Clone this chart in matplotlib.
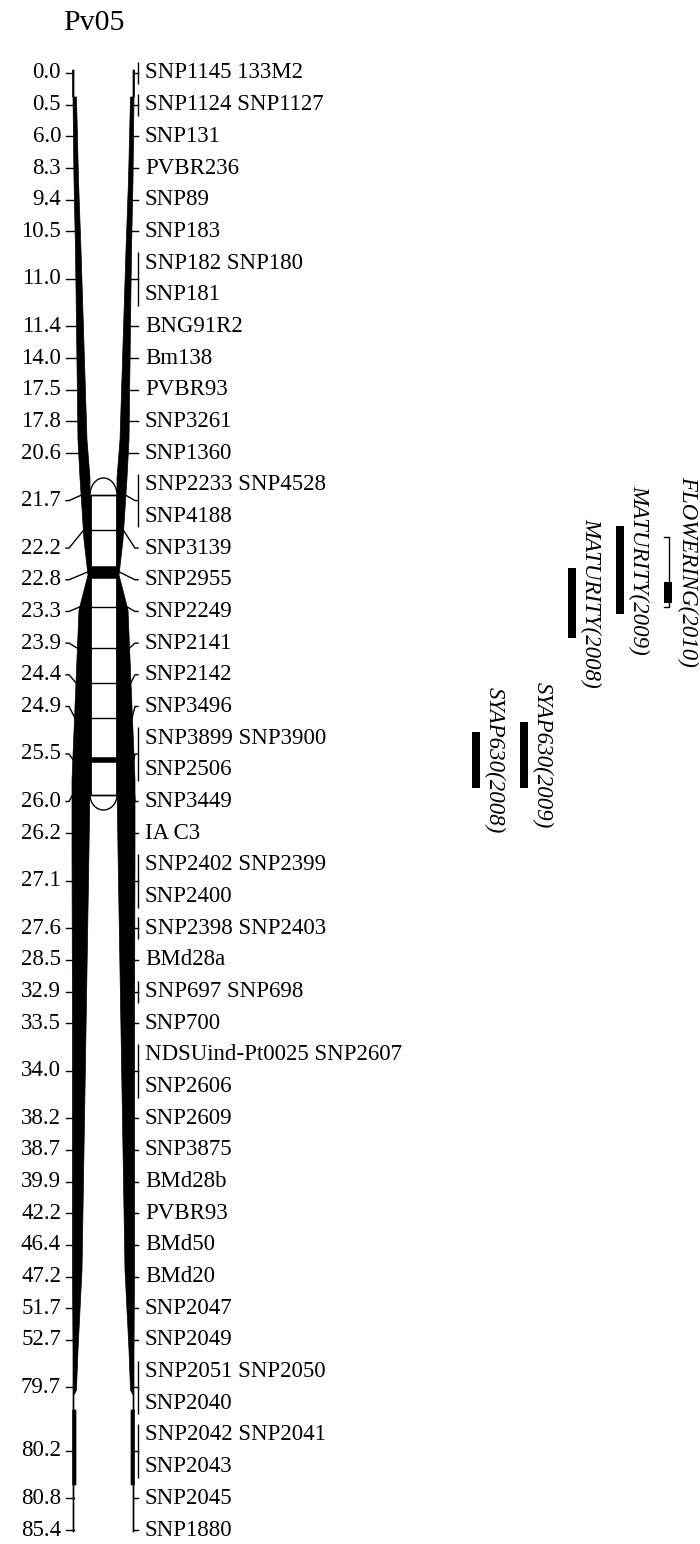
import numpy as np
import matplotlib.pyplot as plt
from matplotlib.patches import Polygon, Ellipse, Rectangle

plt.rcParams['font.family'] = ['Liberation Serif', 'DejaVu Serif']

# linkage group Pv05: map positions (cM) and the markers placed at each one
chrom_name = "Pv05"
positions = [0.0, 0.5, 6.0, 8.3, 9.4, 10.5, 11.0, 11.4, 14.0, 17.5,
             17.8, 20.6, 21.7, 22.2, 22.8, 23.3, 23.9, 24.4, 24.9, 25.5,
             26.0, 26.2, 27.1, 27.6, 28.5, 32.9, 33.5, 34.0, 38.2, 38.7,
             39.9, 42.2, 46.4, 47.2, 51.7, 52.7, 79.7, 80.2, 80.8, 85.4]
marker_lines = [
    [["SNP1145", "133M2"]],
    [["SNP1124", "SNP1127"]],
    [["SNP131"]],
    [["PVBR236"]],
    [["SNP89"]],
    [["SNP183"]],
    [["SNP182", "SNP180"], ["SNP181"]],
    [["BNG91R2"]],
    [["Bm138"]],
    [["PVBR93"]],
    [["SNP3261"]],
    [["SNP1360"]],
    [["SNP2233", "SNP4528"], ["SNP4188"]],
    [["SNP3139"]],
    [["SNP2955"]],
    [["SNP2249"]],
    [["SNP2141"]],
    [["SNP2142"]],
    [["SNP3496"]],
    [["SNP3899", "SNP3900"], ["SNP2506"]],
    [["SNP3449"]],
    [["IA C3"]],
    [["SNP2402", "SNP2399"], ["SNP2400"]],
    [["SNP2398", "SNP2403"]],
    [["BMd28a"]],
    [["SNP697", "SNP698"]],
    [["SNP700"]],
    [["NDSUind-Pt0025", "SNP2607"], ["SNP2606"]],
    [["SNP2609"]],
    [["SNP3875"]],
    [["BMd28b"]],
    [["PVBR93"]],
    [["BMd50"]],
    [["BMd20"]],
    [["SNP2047"]],
    [["SNP2049"]],
    [["SNP2051", "SNP2050"], ["SNP2040"]],
    [["SNP2042", "SNP2041"], ["SNP2043"]],
    [["SNP2045"]],
    [["SNP1880"]],
]

# expanded interval drawn as the inner chromosome
zoom_start, zoom_end = 21.7, 26.0
zoom_bands = [22.8, 25.5]

# QTL intervals (cM), left to right
qtl_names = ["SYAP630(2008)", "SYAP630(2009)", "MATURITY(2008)",
             "MATURITY(2009)", "FLOWERING(2010)"]
qtl_start = [25.1, 24.95, 22.75, 22.15, 22.3]
qtl_end = [25.9, 25.9, 23.75, 23.4, 23.3]
qtl_core_start = [25.1, 24.95, 22.75, 22.15, 22.95]
qtl_core_end = [25.9, 25.9, 23.75, 23.4, 23.25]

# ---- layout (pixel units) ----
W, H = 700, 1544
row_top, row_bottom = 73, 1530
cx = 103.5
n_rows = sum(len(g) for g in marker_lines)
pitch = (row_bottom - row_top) / (n_rows - 1)
zoom_y0, zoom_y1 = 495, 795
zoom_left, zoom_right = 90, 2 * cx - 90


def zoom_y(cm):
    return zoom_y0 + (cm - zoom_start) * (zoom_y1 - zoom_y0) / (zoom_end - zoom_start)


# outline of the left wall of the chromosome; right wall is its mirror
wall_y = [70, 97, 97, 180, 250, 440, 478, 540, 575, 610, 780, 850, 1030,
          1270, 1350, 1390, 1395, 1410, 1410, 1485, 1485, 1532]
wall_outer = [72.5, 72.5, 73, 74, 75.5, 78, 80, 84, 88, 79, 72, 72, 72.5,
              72.5, 73, 73, 73, 73, 72.5, 72.5, 73, 73]
wall_inner = [74, 74, 76.5, 78.5, 81, 87, 90, 90, 90, 90, 90, 89, 86,
              82, 78, 76.5, 74, 74, 76, 76, 74, 74]


def outer_x(y):
    return np.interp(y, wall_y, wall_outer)


fig = plt.figure(figsize=(W / 100, H / 100), dpi=100)
ax = fig.add_axes([0, 0, 1, 1])
ax.set_xlim(0, W)
ax.set_ylim(H, 0)
ax.axis('off')

lw = 1.0
fs = 16.5

ax.text(63, 23, chrom_name, fontsize=21.5, ha='left', va='center')

# chromosome walls
left_pts = list(zip(wall_outer, wall_y)) + list(zip(wall_inner, wall_y))[::-1]
right_pts = [(2 * cx - x, y) for x, y in left_pts]
ax.add_patch(Polygon(left_pts, closed=True, fc='black', ec='black', lw=0.5))
ax.add_patch(Polygon(right_pts, closed=True, fc='black', ec='black', lw=0.5))

# inner (expanded) chromosome with rounded ends
zw = zoom_right - zoom_left
ax.add_patch(Ellipse((cx, zoom_y0), zw, 34, fc='white', ec='black', lw=lw, zorder=2))
ax.add_patch(Ellipse((cx, zoom_y1), zw, 30, fc='white', ec='black', lw=lw, zorder=2))
ax.add_patch(Rectangle((zoom_left, zoom_y0), zw, zoom_y1 - zoom_y0,
                       fc='white', ec='none', zorder=3))
ax.vlines([zoom_left, zoom_right], zoom_y0, zoom_y1, color='black', lw=2, zorder=4)
ax.hlines([zoom_y0, zoom_y1], zoom_left, zoom_right, color='black', lw=lw, zorder=4)
for p in positions:
    if zoom_start <= p <= zoom_end:
        ax.hlines(zoom_y(p), zoom_left, zoom_right, color='black',
                  lw=9 if p == zoom_bands[0] else (4 if p in zoom_bands else lw),
                  zorder=4)

# labels and connectors
row = 0
for p, lines in zip(positions, marker_lines):
    ys = [row_top + (row + k) * pitch for k in range(len(lines))]
    row += len(lines)
    ly = np.mean(ys)
    cy = zoom_y(p) if zoom_start <= p <= zoom_end else ly

    ax.text(61, ly, f"{p:.1f}", fontsize=fs, ha='right', va='center')
    xo = outer_x(cy)
    ax.plot([66, 69, xo + 0.5], [ly, ly, cy], color='black', lw=lw, zorder=5)

    xr = 2 * cx - xo
    n_markers = sum(len(l) for l in lines)
    ax.plot([xr - 0.5, 135, 138], [cy, ly, ly], color='black', lw=lw, zorder=5)
    if n_markers > 1:
        ax.vlines(138, ys[0] - 11, ys[-1] + 11, color='black', lw=lw)
    for y, l in zip(ys, lines):
        ax.text(145, y, " ".join(l), fontsize=fs, ha='left', va='center')

# QTL bars with rotated names
for i, name in enumerate(qtl_names):
    bx = 475.5 + 48.2 * i
    y0, y1 = zoom_y(qtl_start[i]), zoom_y(qtl_end[i])
    c0, c1 = zoom_y(qtl_core_start[i]), zoom_y(qtl_core_end[i])
    if (y0, y1) != (c0, c1):
        ax.plot([bx - 4, bx + 1, bx + 1, bx - 4], [y0, y0, y1, y1],
                color='black', lw=lw)
    ax.add_patch(Rectangle((bx - 4, c0), 8, c1 - c0, fc='black', ec='none'))
    ax.text(bx + 19, (y0 + y1) / 2, name, fontsize=fs, style='italic',
            rotation=270, ha='center', va='center', rotation_mode='anchor')

fig.savefig('out.png', dpi=100)
